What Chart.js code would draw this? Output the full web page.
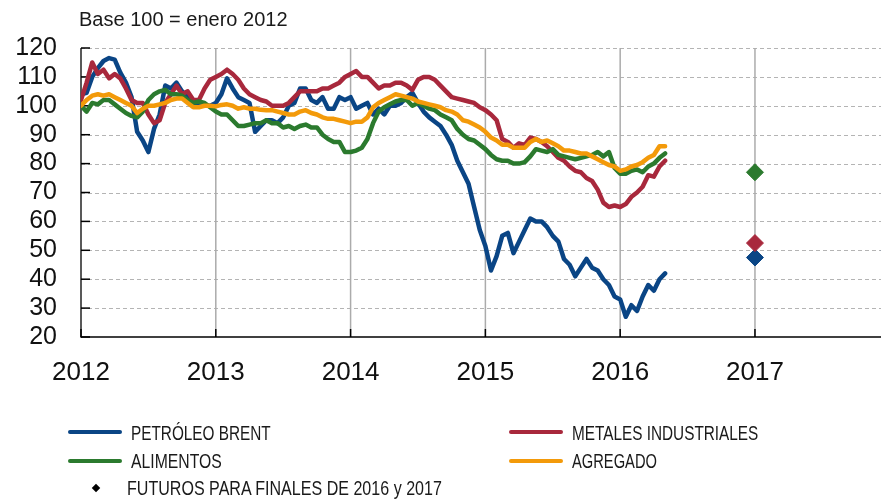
<!DOCTYPE html>
<html><head><meta charset="utf-8">
<script src="https://cdn.jsdelivr.net/npm/chart.js@4"></script>
<style>
html,body{margin:0;padding:0;background:#fff;}
#wrap{position:relative;width:881px;height:499px;overflow:hidden;background:#fff;}
#c{position:absolute;left:0;top:0;}
.t{position:absolute;white-space:nowrap;font-family:"Liberation Sans",Arial,sans-serif;color:#1a1a1a;}
.lg{font-size:21px;line-height:21px;transform-origin:0 0;transform:scaleX(0.73);}
.sw{position:absolute;height:4px;width:54px;border-radius:2px;}
.dm{position:absolute;width:6px;height:6px;background:#000;transform:rotate(45deg);}
</style></head>
<body>
<div id="wrap">
<canvas id="c" width="881" height="499"></canvas>
<div class="t" style="left:79px;top:9px;font-size:20px;line-height:20px;">Base 100 = enero 2012</div>
<div class="sw" style="left:68px;top:430px;background:#0a4585;"></div>
<div class="t lg" style="left:131px;top:422px;">PETRÓLEO BRENT</div>
<div class="sw" style="left:68px;top:459px;background:#2b7a2e;"></div>
<div class="t lg" style="left:131px;top:450px;transform:scaleX(0.75);">ALIMENTOS</div>
<div class="dm" style="left:93px;top:485px;"></div>
<div class="t lg" style="left:127px;top:477px;transform:scaleX(0.765);">FUTUROS PARA FINALES DE 2016 y 2017</div>
<div class="sw" style="left:509px;top:430px;background:#a8283c;"></div>
<div class="t lg" style="left:572px;top:422px;">METALES INDUSTRIALES</div>
<div class="sw" style="left:509px;top:459px;background:#f39a0a;"></div>
<div class="t lg" style="left:572px;top:450px;transform:scaleX(0.70);">AGREGADO</div>
</div>
<script>
// x categories: half-month steps from January 2012
const dates = Array.from({length: 105}, (_, i) => 2012 + i / 24);
const xYears = [2012, 2013, 2014, 2015, 2016, 2017];
const yTicks = [20, 30, 40, 50, 60, 70, 80, 90, 100, 110, 120];

const brent = [104,104.5,110,113,115.5,116.5,116,111.5,108,103,91,88,84,92,97,107,106,108,105,103,
100,100.5,100,100,101,104,109.5,106,103,102,101,91,93,95,95,94,96,100,101,106,
106,102,101,103,99,99,103,102,103,99,100,101,97,99,97,100,100,101,103,104.5,
101,98,96,94.5,93,90,86.5,81,77,73,65,57,51.5,43,48,55,56,49,53,57,
61,60,60,58,55,53,47,45,41,44,47,44,43,40,38,34,33,27,31,29,
34,38,36,40,42];
const metales = [102,108,115,111,112.5,109.5,111,109.5,106,102,101,101,97,94,95,101,104,107,104,105,
102,102,106,109,110,111,112.5,111,109,106,104,103,102,101.5,100,100,100,101,103,105,
105,105,105,106,106,107,108,110,111,112,110,110,108,106,107,107,108,108,107,105.5,
109,110,110,109,107,105,103,102.5,102,101.5,101,99.5,98.5,97,95,88.5,87.5,85.5,87,86.5,
89,88.5,87.5,86,84,82,81,79,77.5,77,75,74,71,66.5,65,65.5,65,66,68.5,70,
72,76,75.5,79,81];
const alimentos = [100,98,101,100.5,102,102,100.5,99,97.5,96.5,96,98,102,104,105,105.5,104,104,103.5,102,
101,101.5,101,99.5,98,97,97,95,93,93,93.5,94,94,95,94,94,92.5,93,92,93,
93.5,92.5,92.5,90,88.5,87.5,87.5,84,84,84.5,85.5,88.5,94,98,99.5,100.5,101.5,102,102,100,
101,100,99,98.5,97,96,95,92,90,88.5,88,86.5,85,83,81.5,81,81,80,80,80.5,
82.5,85,84.5,84,85,83,82.5,82,81.5,82,82.5,83,84,82.5,84,78.5,76.5,76.5,77.5,78,
77,79,80,82,83.5];
const agregado = [100,102,103.5,104,103.5,104,103,102,101,100,97.5,99,100,100,100.5,101,102,102.5,102.5,101,
99.5,99.5,100,100,99.8,100.3,100.5,100,99,99.5,99,99,98.6,98.5,98.5,98,97.5,97,97,98,
98.5,97.5,97,96,95.5,95.5,95,94.5,94,94.5,94.5,96,99.5,101,102,103,104,103.5,103,102.5,
101.5,101,100.5,100,99.5,98.5,98,97,95,94.5,93.5,92.5,91,89,88,86.5,86.5,85.5,85.5,85.5,
87.5,88.5,87.5,88,87,86,84.5,84.5,84,83.5,83.5,82.5,81.5,80.5,79.5,79,77.5,78,79,79.5,
80.5,82,83,86,86];

// futures for end of 2016 and end of 2017
const futurosX = [2017, 2018];
const futBrent = [47.5, 50];
const futMetales = [52.5, 52];
const futAlimentos = [77, 78];

const BLUE = '#0a4585', RED = '#a8283c', GREEN = '#2b7a2e', ORANGE = '#f39a0a';

const toXY = (xs, ys) => ys.map((v, i) => ({x: xs[i], y: v}));
const lineDs = (label, vals, color, order) => ({
  label, data: toXY(dates, vals), borderColor: color, backgroundColor: color,
  borderWidth: 4.5, pointRadius: 0, tension: 0, borderJoinStyle: 'round', borderCapStyle: 'round', order
});
const futDs = (label, vals, color) => ({
  label, data: toXY(futurosX, vals), showLine: false, pointStyle: 'rectRot',
  pointRadius: 8.5, borderWidth: 1, borderColor: color, backgroundColor: color, order: -1
});

const deco = {
  id: 'deco',
  beforeDatasetsDraw(chart) {
    const {ctx, chartArea: a, scales: {x, y}} = chart;
    const line = (x1, y1, x2, y2) => { ctx.beginPath(); ctx.moveTo(x1, y1); ctx.lineTo(x2, y2); ctx.stroke(); };
    ctx.save();
    ctx.strokeStyle = '#b4b4b4'; ctx.lineWidth = 1; ctx.setLineDash([4, 3]);
    yTicks.forEach(v => { if (v === yTicks[0]) return; const py = Math.round(y.getPixelForValue(v)) + 0.5; line(a.left, py, a.right, py); });
    ctx.setLineDash([]);
    ctx.strokeStyle = '#ababab'; ctx.lineWidth = 1.5;
    xYears.forEach(v => { if (v === xYears[0]) return; const px = x.getPixelForValue(v); line(px, a.top, px, a.bottom); });
    // axes
    ctx.strokeStyle = '#222'; ctx.lineWidth = 1.5;
    line(a.left, a.top, a.left, a.bottom + 0.75);
    ctx.strokeStyle = '#000';
    line(a.left, a.bottom, a.right, a.bottom);
    // inner ticks
    ctx.lineWidth = 1.5;
    yTicks.forEach(v => { const py = y.getPixelForValue(v); line(a.left, py, a.left + 9, py); });
    xYears.forEach(v => { const px = x.getPixelForValue(v); line(px, a.bottom, px, a.bottom - 8); });
    ctx.restore();
  }
};

new Chart(document.getElementById('c'), {
  type: 'line',
  data: {
    datasets: [
      futDs('Futuros alimentos', futAlimentos, GREEN),
      futDs('Futuros metales', futMetales, RED),
      futDs('Futuros Brent', futBrent, BLUE),
      lineDs('AGREGADO', agregado, ORANGE, 0),
      lineDs('ALIMENTOS', alimentos, GREEN, 1),
      lineDs('METALES INDUSTRIALES', metales, RED, 2),
      lineDs('PETRÓLEO BRENT', brent, BLUE, 3)
    ]
  },
  options: {
    responsive: false, animation: false, devicePixelRatio: 1,
    layout: {autoPadding: false, padding: {top: 48, right: 0, bottom: 0, left: 0}},
    plugins: {legend: {display: false}, tooltip: {enabled: false}, title: {display: false}},
    scales: {
      x: {
        type: 'linear', min: 2012, max: 2017.935,
        afterBuildTicks: s => { s.ticks = xYears.map(v => ({value: v})); },
        afterFit: s => { s.height = 162; s.paddingLeft = 0; s.paddingRight = 0; },
        grid: {display: false, drawTicks: false}, border: {display: false},
        ticks: {autoSkip: false, maxRotation: 0, padding: 20, color: '#111',
          font: {family: '"Liberation Sans", Arial, sans-serif', size: 26},
          callback: v => String(v)}
      },
      y: {
        min: 20, max: 120,
        afterBuildTicks: s => { s.ticks = yTicks.map(v => ({value: v})); },
        afterFit: s => { s.width = 81; s.paddingTop = 0; s.paddingBottom = 0; },
        grid: {display: false, drawTicks: false}, border: {display: false},
        ticks: {autoSkip: false, padding: 24, color: '#111',
          font: {family: '"Liberation Sans", Arial, sans-serif', size: 25}}
      }
    }
  },
  plugins: [deco]
});
</script>
</body></html>
